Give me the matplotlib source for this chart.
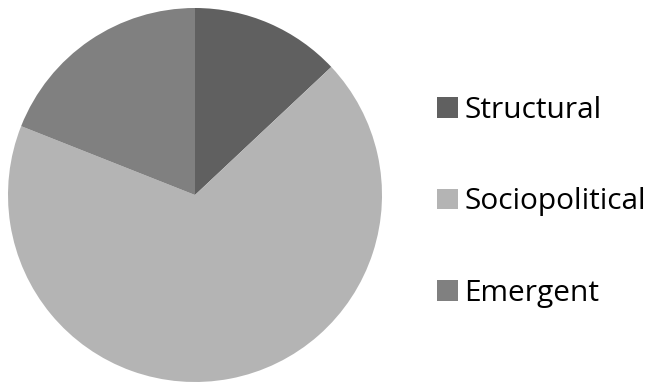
import matplotlib
matplotlib.use('Agg')
import matplotlib.pyplot as plt

categories = ['Structural', 'Sociopolitical', 'Emergent']
shares = [13, 68, 19]
colors = ['#606060', '#b4b4b4', '#808080']

plt.rcParams['font.family'] = ['Open Sans', 'DejaVu Sans']

fig = plt.figure(figsize=(6.5, 3.86), dpi=100)
ax = fig.add_axes([8/650, 4/386, 374/650, 374/386])
wedges, _ = ax.pie(shares, colors=colors, startangle=90, counterclock=False,
                   wedgeprops={'linewidth': 0})
ax.set_xlim(-1, 1)
ax.set_ylim(-1, 1)
ax.set_aspect('equal')

fig.legend(wedges, categories, loc='center left', bbox_to_anchor=(437/650, 0.5 - 9/386),
           frameon=False, fontsize=21.5, handlelength=0.7, handleheight=0.7,
           handletextpad=0.22, labelspacing=2.1, borderpad=0, borderaxespad=0)

fig.savefig('out.png', dpi=100, facecolor='white')
